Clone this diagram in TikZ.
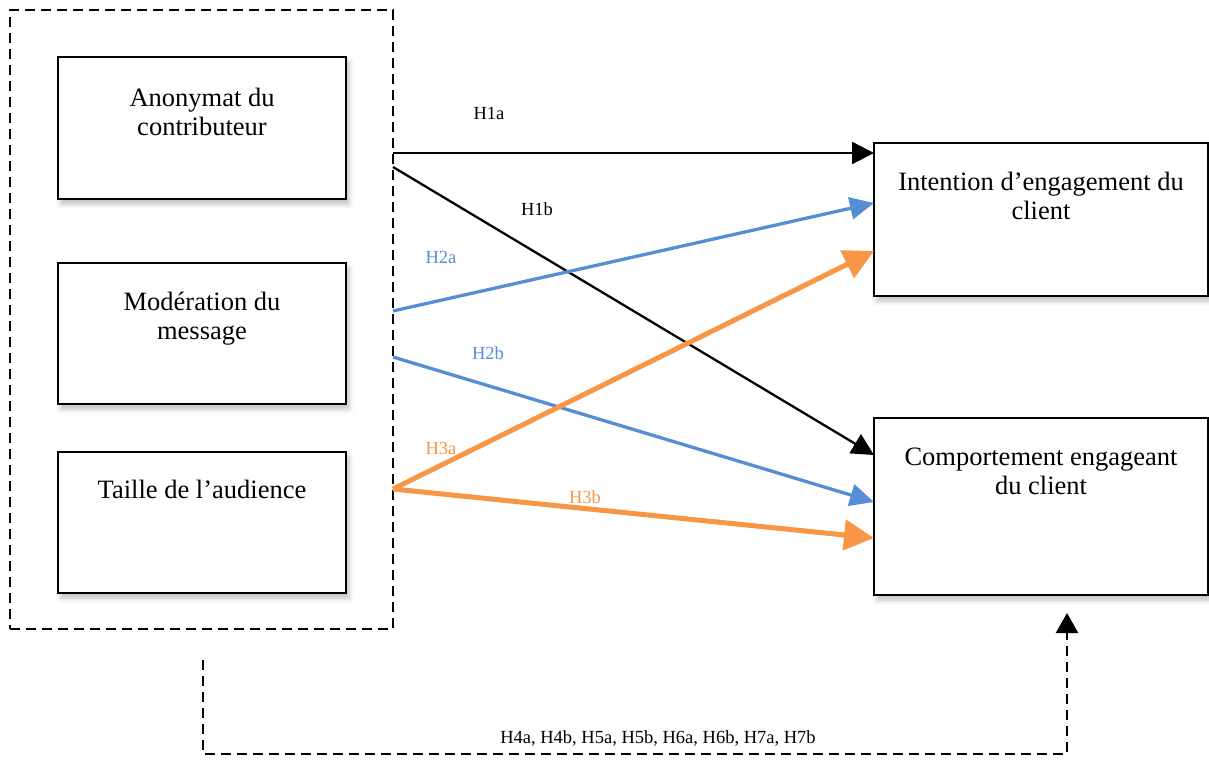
\documentclass[tikz,border=0pt]{standalone}
\usepackage{fontspec}
\setmainfont{Liberation Serif}
\usetikzlibrary{arrows.meta,shadows.blur}
\definecolor{hblue}{HTML}{558ED5}
\definecolor{horange}{HTML}{F79646}
\begin{document}
\begin{tikzpicture}[x=1pt,y=-1pt,
  box/.style={draw=black,line width=2.6pt,fill=white,rectangle,inner sep=0pt,
    blur shadow={shadow xshift=3pt,shadow yshift=-5pt,shadow blur radius=5pt,shadow opacity=25}},
  outerbox/.style={draw=black,line width=2.4pt,dash pattern=on 10pt off 6pt,rectangle,inner sep=0pt},
  txt/.style={align=center,inner sep=0pt,font=\fontsize{26.5}{29}\selectfont},
  lbl/.style={inner sep=0pt,font=\fontsize{18.5}{20}\selectfont},
  blk/.style={draw=black,line width=2.3pt,-{Triangle[length=22pt,width=22pt]}},
  blu/.style={draw=hblue,line width=3.3pt,-{Triangle[length=24pt,width=22pt]}},
  org/.style={draw=horange,line width=5pt,-{Triangle[length=30pt,width=30pt]}},
  dsh/.style={draw=black,line width=2.4pt,dash pattern=on 10pt off 6pt,-{Triangle[length=20pt,width=22pt]}}
]
\useasboundingbox (0,0) rectangle (1209,765);
% outer dashed frame
\node[outerbox,minimum width=383pt,minimum height=619pt] (outer) at (201.5,319.5) {};
% left boxes
\node[box,minimum width=288pt,minimum height=142pt] (b1) at (202,128) {};
\node[box,minimum width=288pt,minimum height=141pt] (b2) at (202,333.5) {};
\node[box,minimum width=288pt,minimum height=141pt] (b3) at (202,522.5) {};
% right boxes
\node[box,minimum width=334pt,minimum height=153pt] (r1) at (1041,219.5) {};
\node[box,minimum width=334pt,minimum height=177pt] (r2) at (1041,506.5) {};
% texts
\node[txt] (t1) at (202,112) {Anonymat du\\contributeur};
\node[txt] (t2) at (202,319) {Modération du\\message};
\node[txt] (t3) at (202,489) {Taille de l’audience};
\node[txt] (tr1) at (1041,196) {Intention d’engagement du\\client};
\node[txt] (tr2) at (1041,471) {Comportement engageant\\du client};
% connector endpoints
\coordinate (s1) at (393,153);
\coordinate (s2) at (393,167);
\coordinate (s3) at (393,311);
\coordinate (s4) at (393,357);
\coordinate (s5) at (393,489);
\coordinate (e1) at (874,153);
\coordinate (e2) at (874,455);
\coordinate (e3) at (874,203);
\coordinate (e4) at (874,502);
\coordinate (e5) at (874,251);
\coordinate (e6) at (874,538);
\coordinate (d0) at (203,660);
\coordinate (d1) at (203,754);
\coordinate (d2) at (1067,754);
\coordinate (d3) at (1067,613);
% arrows
\draw[blk] (s1) -- (e1);
\draw[blk] (s2) -- (e2);
\draw[blu] (s3) -- (e3);
\draw[blu] (s4) -- (e4);
\draw[org] (s5) -- (e5);
\draw[org] (s5) -- (e6);
\draw[dsh] (d0) -- (d1) -- (d2) -- (d3);
% labels
\node[lbl] (l1a) at (489,113) {H1a};
\node[lbl] (l1b) at (537,209) {H1b};
\node[lbl,text=hblue] (l2a) at (441,257) {H2a};
\node[lbl,text=hblue] (l2b) at (488,353) {H2b};
\node[lbl,text=horange] (l3a) at (441,448) {H3a};
\node[lbl,text=horange] (l3b) at (585,497) {H3b};
\node[lbl] (l4) at (658,738) {H4a, H4b, H5a, H5b, H6a, H6b, H7a, H7b};
\end{tikzpicture}
\end{document}
